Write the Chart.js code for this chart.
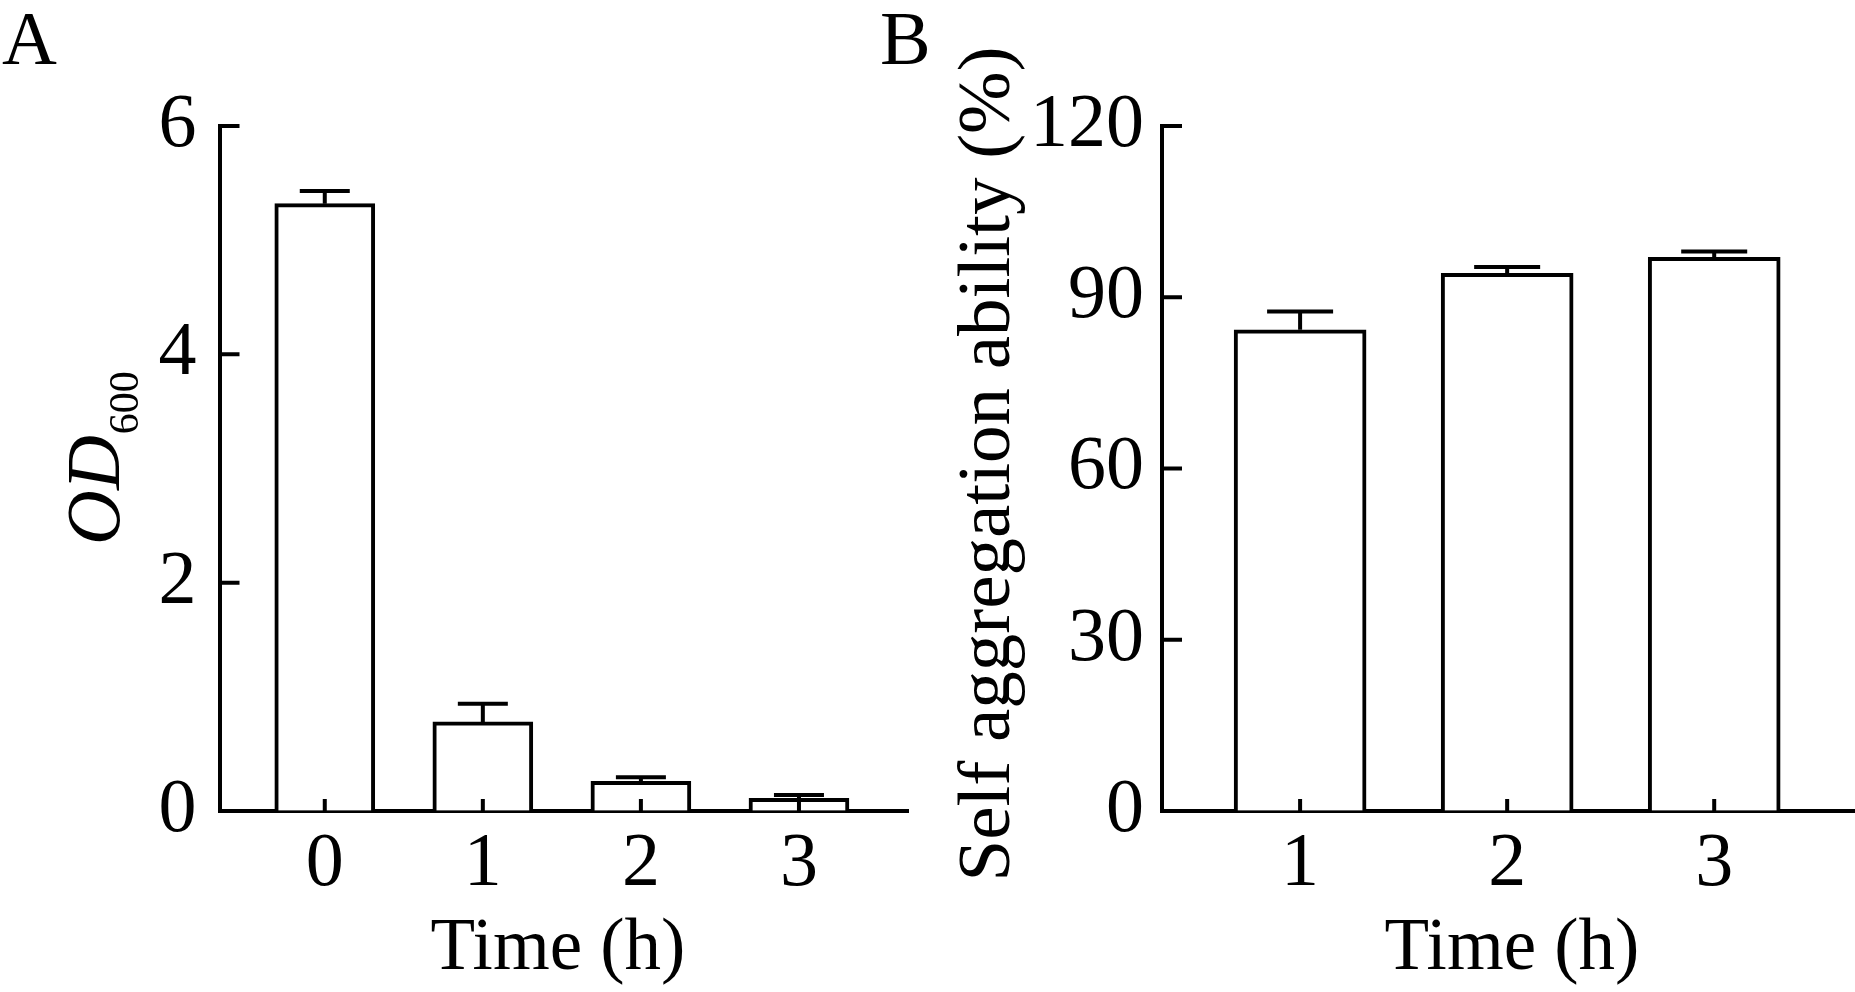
<!DOCTYPE html>
<html lang="en">
<head>
<meta charset="UTF-8">
<title>OD600 and self aggregation</title>
<style>
  body { margin: 0; background: #fff; }
  #wrap { position: relative; width: 1855px; height: 992px; overflow: hidden; background: #fff; }
  canvas { position: absolute; top: 0; }
  #chartA { left: 0; }
  #chartB { left: 860px; }
</style>
</head>
<body>
<div id="wrap">
  <canvas id="chartA" width="930" height="992"></canvas>
  <canvas id="chartB" width="995" height="992"></canvas>
</div>
<script src="https://cdn.jsdelivr.net/npm/chart.js"></script>
<script>
// Panel A: culture OD600 over time
const timesA = [0, 1, 2, 3];
const odValues = [5.32, 0.78, 0.26, 0.11];
const odErrors = [0.11, 0.16, 0.035, 0.03];
const odTicks = [0, 2, 4, 6];

// Panel B: self aggregation ability over time
const timesB = [1, 2, 3];
const aggValues = [84.3, 94.2, 97.0];
const aggErrors = [3.2, 1.1, 1.0];
const aggTicks = [0, 30, 60, 90, 120];

Chart.defaults.font.family = '"Liberation Serif", "Times New Roman", serif';
Chart.defaults.color = '#000';

const SERIF = '"Liberation Serif", "Times New Roman", serif';

// error bars (upper only) and inward tick marks
const marks = {
  id: 'marks',
  afterDatasetsDraw(chart) {
    const ctx = chart.ctx;
    const xs = chart.scales.x, ys = chart.scales.y;
    const area = chart.chartArea;
    const ds = chart.data.datasets[0];
    const meta = chart.getDatasetMeta(0);
    ctx.save();
    ctx.strokeStyle = '#000';
    ctx.lineWidth = 4;
    ctx.beginPath();
    meta.data.forEach((bar, i) => {
      const top = ys.getPixelForValue(ds.data[i].y);
      const cap = ys.getPixelForValue(ds.data[i].y + ds.errors[i]);
      const half = bar.width / 4;
      ctx.moveTo(bar.x, top);
      ctx.lineTo(bar.x, cap);
      ctx.moveTo(bar.x - half, cap);
      ctx.lineTo(bar.x + half, cap);
    });
    ys.ticks.forEach(t => {
      const py = ys.getPixelForValue(t.value);
      ctx.moveTo(area.left, py);
      ctx.lineTo(area.left + 20, py);
    });
    xs.ticks.forEach(t => {
      const px = xs.getPixelForValue(t.value);
      ctx.moveTo(px, area.bottom);
      ctx.lineTo(px, area.bottom - 12);
    });
    ctx.stroke();
    ctx.restore();
  }
};

function makeChart(id, cats, vals, errs, yTicks, cfg) {
  return new Chart(document.getElementById(id), {
    type: 'bar',
    data: {
      datasets: [{
        data: cats.map((c, i) => ({ x: c, y: vals[i] })),
        errors: errs,
        backgroundColor: '#fff',
        borderColor: '#000',
        borderWidth: 4,
        borderSkipped: 'start',
        barThickness: cfg.barWidth
      }]
    },
    options: {
      responsive: false,
      animation: false,
      devicePixelRatio: 1,
      layout: { padding: { top: 126, right: cfg.rightPad, bottom: 0, left: 0 } },
      plugins: { legend: { display: false }, tooltip: { enabled: false } },
      scales: {
        x: {
          type: 'linear',
          min: cfg.xMin,
          max: cfg.xMax,
          offset: false,
          grid: { display: true, drawOnChartArea: false, drawTicks: false },
          border: { display: true, color: '#000', width: 4 },
          ticks: { font: { size: 76 }, color: '#000', padding: 8, maxRotation: 0 },
          afterBuildTicks: s => { s.ticks = cats.map(v => ({ value: v })); },
          afterFit: s => { s.height = 181; }
        },
        y: {
          min: yTicks[0],
          max: yTicks[yTicks.length - 1],
          grid: { display: true, drawOnChartArea: false, drawTicks: false },
          border: { display: true, color: '#000', width: 4 },
          ticks: { font: { size: 76 }, color: '#000', padding: cfg.yPad },
          afterBuildTicks: s => { s.ticks = yTicks.map(v => ({ value: v })); },
          afterFit: s => { s.width = cfg.axisLeft; }
        }
      }
    },
    plugins: [marks, cfg.text]
  });
}

const textA = {
  id: 'textA',
  afterDraw(chart) {
    const ctx = chart.ctx;
    ctx.save();
    ctx.fillStyle = '#000';
    ctx.textBaseline = 'alphabetic';
    ctx.font = '76px ' + SERIF;
    ctx.textAlign = 'left';
    ctx.fillText('A', 2, 64);
    ctx.font = '73px ' + SERIF;
    ctx.textAlign = 'center';
    ctx.fillText('Time (h)', 558, 969);
    // rotated OD600 label
    ctx.translate(119, 545);
    ctx.rotate(-Math.PI / 2);
    ctx.textAlign = 'left';
    ctx.font = 'italic 76px ' + SERIF;
    ctx.fillText('OD', 0, 0);
    const w = ctx.measureText('OD').width;
    ctx.font = '42px ' + SERIF;
    ctx.fillText('600', w + 1, 19);
    ctx.restore();
  }
};

const textB = {
  id: 'textB',
  afterDraw(chart) {
    const ctx = chart.ctx;
    ctx.save();
    ctx.fillStyle = '#000';
    ctx.textBaseline = 'alphabetic';
    ctx.font = '76px ' + SERIF;
    ctx.textAlign = 'left';
    ctx.fillText('B', 20, 64);
    ctx.font = '73px ' + SERIF;
    ctx.textAlign = 'center';
    ctx.fillText('Time (h)', 652, 969);
    ctx.translate(149, 464);
    ctx.rotate(-Math.PI / 2);
    ctx.font = '75px ' + SERIF;
    ctx.fillText('Self aggregation ability (%)', 0, 0);
    ctx.restore();
  }
};

makeChart('chartA', timesA, odValues, odErrors, odTicks, {
  barWidth: 100, rightPad: 21.5, xMin: -0.666, xMax: 3.693,
  axisLeft: 219.5, yPad: 23, text: textA
});

makeChart('chartB', timesB, aggValues, aggErrors, aggTicks, {
  barWidth: 132, rightPad: 0, xMin: 0.333, xMax: 3.68,
  axisLeft: 302, yPad: 18, text: textB
});
</script>
</body>
</html>
